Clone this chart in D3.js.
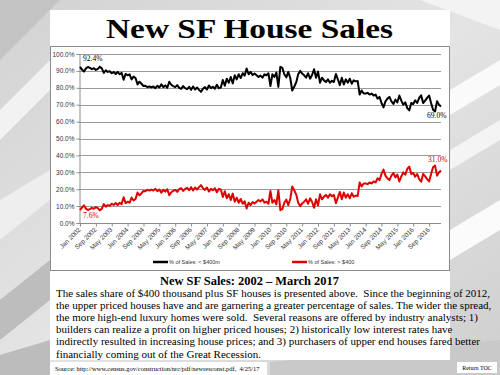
<!DOCTYPE html>
<html><head><meta charset="utf-8">
<script src="https://cdn.jsdelivr.net/npm/d3@7"></script>
<style>
html,body{margin:0;padding:0;background:#fff;}
svg{display:block;}
text{white-space:pre;}
</style></head>
<body>
<svg id="c" width="500" height="375"></svg>
<script>
// ---------- data ----------
const startYear = 2002; // monthly from Jan 2002 to Mar 2017
const tickLabels = ["Jan 2002","Sep 2002","May 2003","Jan 2004","Sep 2004","May 2005","Jan 2006","Sep 2006",
  "May 2007","Jan 2008","Sep 2008","May 2009","Jan 2010","Sep 2010","May 2011","Jan 2012","Sep 2012",
  "May 2013","Jan 2014","Sep 2014","May 2015","Jan 2016","Sep 2016"];
const yTicks = [0,10,20,30,40,50,60,70,80,90,100];
const seriesNames = ["% of Sales: < $400m","% of Sales: > $400"];
const under400 = [
  92.4,90.8,89.6,91.5,92.3,91.8,91.0,91.6,90.6,91.2,92.5,91.5,
  88.8,90.4,89.4,89.8,88.6,89.3,88.2,89.4,88.0,88.8,84.8,88.2,
  87.4,88.0,85.0,86.6,85.8,82.0,83.6,82.4,81.0,81.2,80.4,80.8,
  80.2,80.8,79.8,81.2,80.2,82.0,80.4,81.4,80.0,83.6,81.8,81.0,
  80.4,81.6,80.0,79.4,81.0,79.8,79.2,80.6,78.8,80.8,79.0,80.2,
  78.8,77.6,79.4,80.4,79.0,81.4,79.8,80.6,79.4,81.8,79.8,80.2,
  84.6,81.2,85.4,83.0,86.4,82.6,87.4,85.0,88.0,85.8,88.6,87.2,
  91.4,88.0,89.4,87.6,88.4,87.4,86.4,87.2,86.0,88.0,87.4,88.6,
  81.0,88.0,86.4,89.0,80.6,92.4,91.8,88.0,86.2,89.4,85.8,78.4,
  80.6,83.2,88.0,90.0,88.4,87.4,86.0,88.6,85.4,87.6,91.0,86.0,
  89.6,83.0,86.0,84.4,83.4,85.0,83.0,84.2,83.4,88.2,85.0,81.6,
  86.0,82.0,85.0,83.0,85.4,82.4,84.4,83.8,84.0,76.0,78.4,76.6,
  76.6,77.0,76.0,76.6,75.4,76.0,73.6,74.6,71.0,68.4,72.0,73.6,
  74.6,72.0,70.4,73.0,71.4,75.4,72.4,70.0,71.4,68.0,66.6,71.0,
  70.4,72.6,71.0,74.0,75.6,71.0,72.4,74.0,75.4,71.0,67.0,66.0,
  72.0,70.0,69.0];
const over400 = [
  7.6,9.2,10.4,8.5,7.7,8.2,9.0,8.4,9.4,8.8,7.5,8.5,
  11.2,9.6,10.6,10.2,11.4,10.7,11.8,10.6,12.0,11.2,15.2,11.8,
  12.6,12.0,15.0,13.4,14.2,18.0,16.4,17.6,19.0,18.8,19.6,19.2,
  19.8,19.2,20.2,18.8,19.8,18.0,19.6,18.6,20.0,16.4,18.2,19.0,
  19.6,18.4,20.0,20.6,19.0,20.2,20.8,19.4,21.2,19.2,21.0,19.8,
  21.2,22.4,20.6,19.6,21.0,18.6,20.2,19.4,20.6,18.2,20.2,19.8,
  15.4,18.8,14.6,17.0,13.6,17.4,12.6,15.0,12.0,14.2,11.4,12.8,
  8.6,12.0,10.6,12.4,11.6,12.6,13.6,12.8,14.0,12.0,12.6,11.4,
  19.0,12.0,13.6,11.0,19.4,7.6,8.2,12.0,13.8,10.6,14.2,21.6,
  19.4,16.8,12.0,10.0,11.6,12.6,14.0,11.4,14.6,12.4,9.0,14.0,
  10.4,17.0,14.0,15.6,16.6,15.0,17.0,15.8,16.6,11.8,15.0,18.4,
  14.0,18.0,15.0,17.0,14.6,17.6,15.6,16.2,16.0,24.0,21.6,23.4,
  23.4,23.0,24.0,23.4,24.6,24.0,26.4,25.4,29.0,31.6,28.0,26.4,
  25.4,28.0,29.6,27.0,28.6,24.6,27.6,30.0,28.6,32.0,33.4,29.0,
  29.6,27.4,29.0,26.0,24.4,29.0,27.6,26.0,24.6,29.0,33.0,34.0,
  28.0,30.0,31.0];
const paragraph = [
  "The sales share of $400 thousand plus SF houses is presented above.  Since the beginning of 2012,",
  "the upper priced houses have and are garnering a greater percentage of sales. The wider the spread,",
  "the more high-end luxury homes were sold.  Several reasons are offered by industry analysts; 1)",
  "builders can realize a profit on higher priced houses; 2) historically low interest rates have",
  "indirectly resulted in increasing house prices; and 3) purchasers of upper end houses fared better",
  "financially coming out of the Great Recession."];

// ---------- drawing ----------
const svg = d3.select("#c");
const defs = svg.append("defs");
const g0 = defs.append("linearGradient").attr("id","bg").attr("x1","0").attr("y1","0").attr("x2","1").attr("y2","1");
g0.append("stop").attr("offset","0").attr("stop-color","#d2d2d2");
g0.append("stop").attr("offset","0.5").attr("stop-color","#e4e4e4");
g0.append("stop").attr("offset","1").attr("stop-color","#cfcfcf");
svg.append("rect").attr("width",500).attr("height",375).attr("fill","url(#bg)");
// decorative beams of background photo
const beams = [
  {p:[[0,0],[60,0],[0,60]], c:"#c4c4c4"},
  {p:[[0,110],[50,60],[50,90],[0,140]], c:"#f2f2f2"},
  {p:[[0,200],[50,170],[50,200],[0,240]], c:"#eeeeee"},
  {p:[[0,300],[50,260],[50,300],[0,340]], c:"#bdbdbd"},
  {p:[[450,90],[500,60],[500,85],[450,115]], c:"#fafafa"},
  {p:[[450,150],[500,120],[500,140],[450,170]], c:"#f4f4f4"},
  {p:[[450,230],[500,200],[500,230],[450,260]], c:"#fbfbfb"},
  {p:[[380,0],[500,0],[500,30],[420,0]], c:"#f3f3f3"},
  {p:[[270,362],[500,340],[500,375],[270,375]], c:"#c9c9c9"},
  {p:[[0,355],[50,340],[50,375],[0,375]], c:"#bcbcbc"}
];
svg.selectAll("polygon.beam").data(beams).join("polygon").attr("class","beam")
  .attr("points",d=>d.p.map(q=>q.join(",")).join(" ")).attr("fill",d=>d.c);

// title box
svg.append("rect").attr("x",50).attr("y",10).attr("width",400).attr("height",37).attr("fill","#fff");
svg.append("text").attr("x",106).attr("y",38)
  .attr("font-family","Liberation Serif, Times New Roman, serif").attr("font-weight","bold")
  .attr("font-size",28).attr("textLength",287).attr("lengthAdjust","spacingAndGlyphs").attr("fill","#000").text("New SF House Sales");

// chart box
svg.append("rect").attr("x",50.5).attr("y",46.5).attr("width",399).attr("height",224)
  .attr("fill","#fff").attr("stroke","#8c8c8c").attr("stroke-width",1);

const x = d3.scaleLinear().domain([0, under400.length-1]).range([80, 441]);
const y = d3.scaleLinear().domain([0,100]).range([223, 54]);

// gridlines
svg.append("g").selectAll("line").data(yTicks.filter(v=>v>0)).join("line")
  .attr("x1",79).attr("x2",441).attr("y1",d=>Math.round(y(d))+0.5).attr("y2",d=>Math.round(y(d))+0.5)
  .attr("stroke","#9a9a9a").attr("stroke-width",1);

// y axis
const yAxis = d3.axisLeft(y).tickValues(yTicks).tickFormat(d=>d.toFixed(1)+"%").tickSize(3).tickPadding(2);
const ya = svg.append("g").attr("transform","translate(79.5,0)").call(yAxis);
ya.select(".domain").attr("stroke","#8c8c8c");
ya.selectAll(".tick line").attr("stroke","#8c8c8c");
ya.selectAll(".tick text").attr("font-family","Liberation Sans, Arial, sans-serif").attr("font-size",6.5).attr("fill","#333");

// x axis
const tickIdx = tickLabels.map((_,i)=>i*8);
const xAxis = d3.axisBottom(x).tickValues(tickIdx).tickFormat((d,i)=>tickLabels[i]).tickSize(3).tickPadding(2);
const xa = svg.append("g").attr("transform","translate(0,"+(Math.round(y(0))+0.5)+")").call(xAxis);
xa.select(".domain").attr("stroke","#8c8c8c").attr("d","M79,0H441");
xa.selectAll(".tick line").attr("stroke","#8c8c8c");
xa.selectAll(".tick text").attr("font-family","Liberation Sans, Arial, sans-serif").attr("font-size",6.5).attr("fill","#333")
  .attr("text-anchor","end").attr("dy","0.35em").attr("transform","translate(-1,5) rotate(-45)").attr("y",0).attr("x",0);

// lines
const line = d3.line().x((d,i)=>x(i)).y(d=>y(d));
svg.append("path").datum(under400).attr("d",line).attr("fill","none").attr("stroke","#000").attr("stroke-width",2).attr("stroke-linejoin","round");
svg.append("path").datum(over400).attr("d",line).attr("fill","none").attr("stroke","#e00000").attr("stroke-width",2).attr("stroke-linejoin","round");

// end labels
const lab = (t,xx,yy,c)=>svg.append("text").attr("x",xx).attr("y",yy).attr("font-family","Liberation Serif, Times New Roman, serif")
  .attr("font-size",7.5).attr("fill",c).text(t);
const n = under400.length-1;
lab(under400[0].toFixed(1)+"%", x(0)+3, y(under400[0])-6, "#000");
lab(under400[n].toFixed(1)+"%", x(n)-14, y(under400[n])+12, "#000");
lab(over400[0].toFixed(1)+"%", x(0)+3, y(over400[0])+8, "#c00000");
lab(over400[n].toFixed(1)+"%", x(n)-13, y(over400[n])-9, "#c00000");

// legend
const legend = [{n:seriesNames[0],c:"#000",x:153},{n:seriesNames[1],c:"#e00000",x:292}];
const lg = svg.append("g").selectAll("g").data(legend).join("g").attr("transform",d=>"translate("+d.x+",262)");
lg.append("line").attr("x1",0).attr("x2",15).attr("y1",0).attr("y2",0).attr("stroke",d=>d.c).attr("stroke-width",2.5);
lg.append("text").attr("x",16).attr("y",2).attr("font-family","Liberation Sans, Arial, sans-serif").attr("font-size",5.5).attr("fill","#333").text(d=>d.n);

// text box
svg.append("rect").attr("x",50).attr("y",271).attr("width",400).attr("height",89).attr("fill","#fff");
svg.append("text").attr("x",160).attr("y",285)
  .attr("font-family","Liberation Serif, Times New Roman, serif").attr("font-weight","bold").attr("font-size",13)
  .attr("textLength",179).attr("lengthAdjust","spacingAndGlyphs")
  .text("New SF Sales: 2002 \u2013 March 2017");
svg.append("g").selectAll("text").data(paragraph).join("text")
  .attr("x",56).attr("y",(d,i)=>297+i*12.1)
  .attr("font-family","Liberation Serif, Times New Roman, serif").attr("font-size",11).attr("fill","#000").text(d=>d);

// source and return boxes
svg.append("rect").attr("x",50).attr("y",362).attr("width",217).attr("height",13).attr("fill","#fff");
svg.append("text").attr("x",55).attr("y",370.5).attr("font-family","Liberation Serif, Times New Roman, serif").attr("font-size",6.5)
  .text("Source: http://www.census.gov/construction/nrc/pdf/newresconst.pdf,  4/25/17");
svg.append("rect").attr("x",457).attr("y",362).attr("width",40).attr("height",11).attr("fill","#fff");
svg.append("text").attr("x",477).attr("y",369.5).attr("text-anchor","middle").attr("font-family","Liberation Serif, Times New Roman, serif").attr("font-size",6)
  .text("Return TOC");
</script>
</body></html>
